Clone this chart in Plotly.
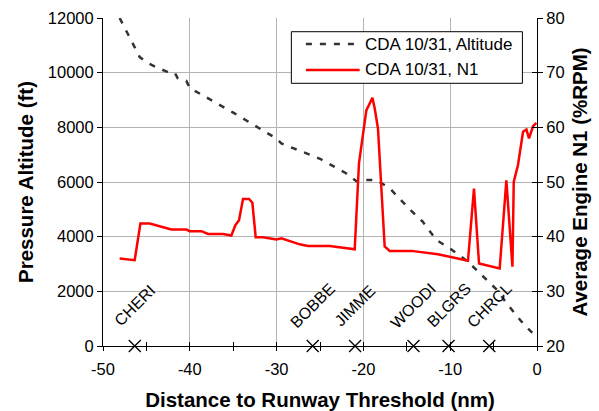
import plotly.graph_objects as go

# Altitude (ft) vs distance to threshold (nm)
alt_x = [-48.08, -45.77, -44.85, -43.58, -41.97, -41.7, -41.4, -40.4, -40.01, -35.0, -30.02, -29.45,
         -25.0, -22.0, -20.81, -20.08, -18.5, -16.97, -14.5, -13.17, -12.6, -11.59, -10.0, -8.51,
         -7.36, -5.83, -4.6, -3.52, -2.5, -1.65, -0.6, -0.07]
alt_y = [12000, 10570, 10350, 10160, 9950, 9980, 9800, 9700, 9440, 8540, 7590, 7410,
         6850, 6320, 6030, 6070, 6070, 5770, 4950, 4550, 4300, 3880, 3560, 3220,
         2900, 2415, 2050, 1570, 1180, 840, 500, 400]

# Average engine N1 (%RPM)
n1_x = [-48.08, -46.35, -45.69, -44.62, -42.12, -40.39, -40.01, -38.66, -37.9, -36.18, -35.21,
        -34.75, -34.33, -33.87, -33.18, -32.79, -32.41, -31.57, -30.02, -29.45, -27.34, -26.38,
        -23.88, -22.53, -21.0, -20.51, -19.97, -19.66, -18.96, -18.7, -18.32, -17.55, -16.97,
        -14.47, -11.41, -7.95, -7.26, -6.68, -4.3, -3.53, -2.83, -2.68, -2.19, -1.61, -1.22,
        -0.92, -0.46, -0.07]
n1_y = [36.0, 35.7, 42.4, 42.4, 41.3, 41.3, 41.0, 41.0, 40.5, 40.5, 40.2,
        42.1, 43.0, 46.9, 46.9, 46.2, 39.9, 39.9, 39.5, 39.7, 38.6, 38.3,
        38.3, 38.0, 37.7, 53.4, 59.8, 63.1, 65.4, 63.5, 59.8, 38.2, 37.4,
        37.4, 36.8, 35.6, 48.8, 35.1, 34.2, 50.3, 34.5, 50.0, 53.1, 59.2, 59.6,
        58.0, 60.2, 60.8]

# Waypoints
wp_names = ["CHERI", "BOBBE", "JIMME", "WOODI", "BLGRS", "CHRCL"]
wp_x = [-46.34, -25.84, -20.96, -14.23, -10.19, -5.5]
wp_y = [0, 0, 0, 0, 0, 0]
wp_label_y = [1480, 1480, 1480, 1480, 1480, 1480]

series_names = ["CDA 10/31, Altitude", "CDA 10/31, N1"]

x_ticks = [-50, -40, -30, -20, -10, 0]
x_ticktext = ["-50", "-40", "-30", "-20", "-10", "0"]
y_ticks = [0, 2000, 4000, 6000, 8000, 10000, 12000]
y_ticktext = ["0", "2000", "4000", "6000", "8000", "10000", "12000"]
y2_ticks = [20, 30, 40, 50, 60, 70, 80]

FONT = "Liberation Sans, Arial, sans-serif"
GRID = "#b4b4b4"
ALT_COLOR = "#333333"
ALT_DASH = "6px,8px"
N1_COLOR = "#ff0000"

fig = go.Figure()
fig.add_trace(go.Scatter(x=alt_x, y=alt_y, mode="lines", name=series_names[0], showlegend=False,
                         line=dict(color=ALT_COLOR, width=2.5, dash=ALT_DASH)))
fig.add_trace(go.Scatter(x=n1_x, y=n1_y, mode="lines", name=series_names[1], yaxis="y2", showlegend=False,
                         line=dict(color=N1_COLOR, width=2.5)))
fig.add_trace(go.Scatter(x=wp_x, y=wp_y, mode="markers", showlegend=False, cliponaxis=False,
                         marker=dict(symbol="x-thin", size=12, line=dict(color="black", width=1.3))))
# helper trace for crossing ticks
fig.add_trace(go.Scatter(x=[None], y=[None], xaxis="x2", yaxis="y3", showlegend=False, hoverinfo="skip"))

for name, x, y in zip(wp_names, wp_x, wp_label_y):
    fig.add_annotation(x=x, y=y, text=name, showarrow=False, textangle=-45,
                       xanchor="center", yanchor="middle",
                       font=dict(family=FONT, size=16, color="black"))

# Legend box (Excel-style), in paper coordinates
lg_x0, lg_x1, lg_y0, lg_y1 = 0.434, 0.9664, 0.8009, 0.9582
row_y = [0.9207, 0.8415]
sample_x0, sample_x1, text_x = 0.4675, 0.5914, 0.5998
fig.add_shape(type="rect", xref="paper", yref="paper", x0=lg_x0, x1=lg_x1, y0=lg_y0, y1=lg_y1,
              fillcolor="white", line=dict(color="black", width=1), layer="above")
for i, (nm, col, dash) in enumerate(zip(series_names, [ALT_COLOR, N1_COLOR], [ALT_DASH, "solid"])):
    fig.add_shape(type="line", xref="paper", yref="paper", x0=sample_x0, x1=sample_x1,
                  y0=row_y[i], y1=row_y[i], line=dict(color=col, width=2.5, dash=dash), layer="above")
    fig.add_annotation(xref="paper", yref="paper", x=text_x, y=row_y[i], text=nm, showarrow=False,
                       xanchor="left", yanchor="middle", font=dict(family=FONT, size=17, color="black"))

axis_common = dict(showline=True, linecolor="black", linewidth=1, zeroline=False,
                   tickcolor="black", tickwidth=1, automargin=False)

fig.update_layout(
    width=599, height=411,
    margin=dict(l=103, r=62, t=18, b=65),
    paper_bgcolor="white", plot_bgcolor="white",
    font=dict(family=FONT, size=16.5, color="black"),
    xaxis=dict(range=[-50, 0], tickvals=x_ticks, ticktext=x_ticktext, ticks="outside", ticklen=4,
               ticklabelstandoff=4,
               showgrid=True, gridcolor=GRID, gridwidth=1,
               minor=dict(dtick=5, tick0=0, ticks="outside", ticklen=4, tickcolor="black", showgrid=False),
               title=dict(text="<b>Distance to Runway Threshold (nm)</b>", font=dict(size=20.5), standoff=16),
               **axis_common),
    xaxis2=dict(range=[-50, 0], overlaying="x", anchor="y", tickvals=x_ticks, ticks="inside", ticklen=4,
                showticklabels=False, showgrid=False, showline=False, zeroline=False, tickcolor="black",
                minor=dict(dtick=5, tick0=0, ticks="inside", ticklen=4, tickcolor="black", showgrid=False)),
    yaxis=dict(range=[0, 12000], tickvals=y_ticks, ticktext=y_ticktext, ticks="outside", ticklen=5,
               showgrid=True, gridcolor=GRID, gridwidth=1,
               title=dict(text="<b>Pressure Altitude (ft)</b>", font=dict(size=20.5), standoff=8),
               **axis_common),
    yaxis2=dict(range=[20, 80], tickvals=y2_ticks, overlaying="y", side="right", anchor="x",
                ticks="outside", ticklen=5, showgrid=False,
                title=dict(text="<b>Average Engine N1 (%RPM)</b>", font=dict(size=20.5), standoff=8),
                **axis_common),
    yaxis3=dict(range=[20, 80], tickvals=y2_ticks, overlaying="y", side="right", anchor="x",
                ticks="inside", ticklen=5, showgrid=False, showline=False, zeroline=False,
                showticklabels=False, tickcolor="black"),
    showlegend=False,
)

fig.write_html("out.html")
